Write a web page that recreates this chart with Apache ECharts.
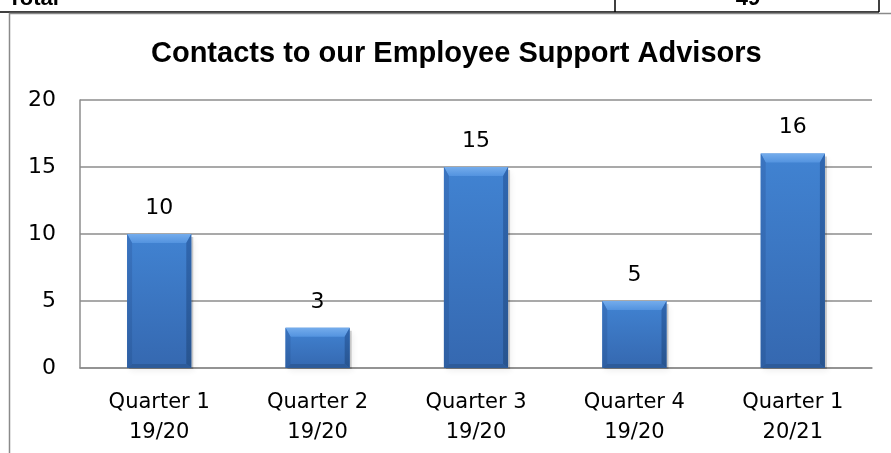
<!DOCTYPE html>
<html>
<head>
<meta charset="utf-8">
<title>Contacts to our Employee Support Advisors</title>
<script src="https://cdn.jsdelivr.net/npm/echarts@6/dist/echarts.min.js"></script>
<style>
  html, body { margin: 0; padding: 0; background: #ffffff; }
  #chart { width: 891px; height: 453px; }
</style>
</head>
<body>
<div id="chart"></div>
<script>
// Quarterly contact counts
const categories = ['Quarter 1\n19/20', 'Quarter 2\n19/20', 'Quarter 3\n19/20', 'Quarter 4\n19/20', 'Quarter 1\n20/21'];
const contacts = [10, 3, 15, 5, 16];
const yTicks = { min: 0, max: 20, interval: 5 };
const totalRow = ['Total', '49'];

const TITLE_FONT = '"Liberation Sans", Arial, Helvetica, sans-serif';
const LABEL_FONT = '"DejaVu Sans", "Liberation Sans", Arial, sans-serif';

const chart = echarts.init(document.getElementById('chart'), null, { renderer: 'canvas' });

// Bevelled bar: body plus a light top edge, darker sides and a thin dark base
function renderBevelBar(params, api) {
  const idx = api.value(0);
  const val = api.value(1);
  const top = api.coord([idx, val]);
  const base = api.coord([idx, 0]);
  const w = api.size([1, 0])[0] * 0.405;
  const x0 = top[0] - w / 2;
  const x1 = top[0] + w / 2;
  const y0 = top[1];
  const y1 = base[1];
  const bt = 9, bs = 5, bb = 4;
  const children = [
    // soft drop shadow
    { type: 'rect', shape: { x: x0 + 2, y: y0 + 3, width: w, height: y1 - y0 - 2 },
      style: { fill: 'rgba(0,0,0,0.18)', shadowBlur: 6, shadowColor: 'rgba(0,0,0,0.35)', shadowOffsetX: 1, shadowOffsetY: 2 }, z2: 0 },
    // body
    { type: 'rect', shape: { x: x0, y: y0, width: w, height: y1 - y0 },
      style: { fill: new echarts.graphic.LinearGradient(0, 0, 0, 1, [
        { offset: 0, color: '#4183d2' }, { offset: 1, color: '#3568b0' }]) }, z2: 1 },
    // top bevel
    { type: 'polygon', shape: { points: [[x0, y0], [x1, y0], [x1 - bs, y0 + bt], [x0 + bs, y0 + bt]] },
      style: { fill: new echarts.graphic.LinearGradient(0, 0, 0, 1, [
        { offset: 0, color: '#74acec' }, { offset: 1, color: '#5393df' }]) }, z2: 2 },
    // left bevel
    { type: 'polygon', shape: { points: [[x0, y0], [x0 + bs, y0 + bt], [x0 + bs, y1 - bb], [x0, y1]] },
      style: { fill: new echarts.graphic.LinearGradient(0, 0, 0, 1, [
        { offset: 0, color: '#3a74c0' }, { offset: 1, color: '#2e5fa3' }]) }, z2: 2 },
    // right bevel
    { type: 'polygon', shape: { points: [[x1, y0], [x1 - bs, y0 + bt], [x1 - bs, y1 - bb], [x1, y1]] },
      style: { fill: new echarts.graphic.LinearGradient(0, 0, 0, 1, [
        { offset: 0, color: '#3067b0' }, { offset: 1, color: '#28548f' }]) }, z2: 2 },
    // bottom bevel
    { type: 'polygon', shape: { points: [[x0, y1], [x0 + bs, y1 - bb], [x1 - bs, y1 - bb], [x1, y1]] },
      style: { fill: '#2d5b9a' }, z2: 2 },
    // value label
    { type: 'text', x: top[0], y: y0 - 15,
      style: { text: String(val), fill: '#000', font: '22px ' + LABEL_FONT, align: 'center', verticalAlign: 'bottom' }, z2: 3 }
  ];
  return { type: 'group', children: children };
}

chart.setOption({
  animation: false,
  backgroundColor: '#ffffff',
  title: {
    text: 'Contacts to our Employee Support Advisors',
    left: 146,
    top: 34,
    textStyle: { fontFamily: TITLE_FONT, fontWeight: 'bold', fontSize: 29, color: '#000' }
  },
  grid: { left: 80, right: 19, top: 100, bottom: 85, containLabel: false },
  xAxis: {
    type: 'category',
    data: categories,
    axisLine: { show: true, lineStyle: { color: '#8c8c8c', width: 1.5 } },
    axisTick: { show: false },
    axisLabel: { color: '#000', fontFamily: LABEL_FONT, fontSize: 21, lineHeight: 30, margin: 20, interval: 0 }
  },
  yAxis: {
    type: 'value',
    min: yTicks.min,
    max: yTicks.max,
    interval: yTicks.interval,
    axisLine: { show: true, lineStyle: { color: '#8c8c8c', width: 1.5 } },
    axisTick: { show: false },
    axisLabel: { color: '#000', fontFamily: LABEL_FONT, fontSize: 22, margin: 24 },
    splitLine: { show: true, lineStyle: { color: '#8c8c8c', width: 1.5 } }
  },
  graphic: [
    // bottom edge of the table row above the chart
    { type: 'line', shape: { x1: 0, y1: 12, x2: 879, y2: 12 }, style: { stroke: '#000', lineWidth: 1.5 } },
    { type: 'line', shape: { x1: 615, y1: 0, x2: 615, y2: 12 }, style: { stroke: '#000', lineWidth: 1.5 } },
    { type: 'line', shape: { x1: 879, y1: 0, x2: 879, y2: 12 }, style: { stroke: '#000', lineWidth: 1.5 } },
    { type: 'text', x: 8, y: -12, style: { text: totalRow[0], fill: '#000', font: 'bold 22px ' + TITLE_FONT } },
    { type: 'text', x: 748, y: -12, style: { text: totalRow[1], fill: '#000', font: 'bold 22px ' + TITLE_FONT, align: 'center' } },
    // chart frame
    { type: 'line', shape: { x1: 9, y1: 13.5, x2: 891, y2: 13.5 }, style: { stroke: '#8a8a8a', lineWidth: 1.5 } },
    { type: 'line', shape: { x1: 9.5, y1: 13, x2: 9.5, y2: 453 }, style: { stroke: '#8a8a8a', lineWidth: 1.5 } }
  ],
  series: [{
    type: 'custom',
    renderItem: renderBevelBar,
    encode: { x: 0, y: 1 },
    data: contacts.map((v, i) => [i, v]),
    z: 5
  }]
});
</script>
</body>
</html>
